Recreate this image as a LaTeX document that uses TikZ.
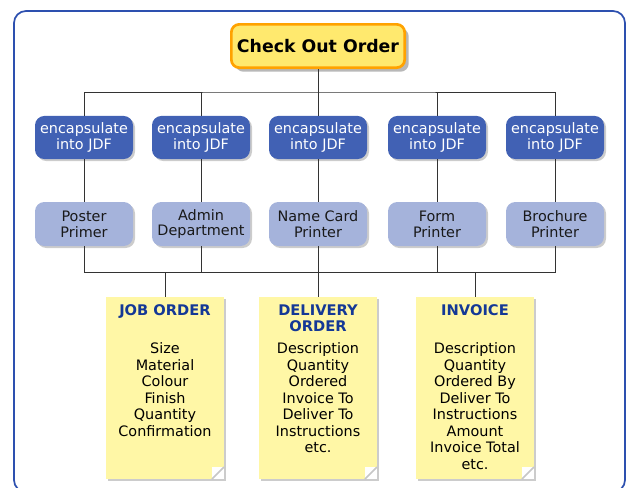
\documentclass[tikz,border=0pt]{standalone}
\usepackage{fontspec}
\setmainfont{DejaVu Sans}
\usetikzlibrary{shadows}
\definecolor{bleucadre}{RGB}{45,80,175}
\definecolor{bleujdf}{RGB}{65,97,180}
\definecolor{bleuclair}{RGB}{165,179,219}
\definecolor{jaunecmd}{RGB}{255,233,110}
\definecolor{orangecmd}{RGB}{255,162,0}
\definecolor{jaunenote}{RGB}{255,247,166}
\definecolor{titrenote}{RGB}{20,56,150}

\begin{document}
\begin{tikzpicture}[x=0.75pt,y=-0.75pt]
\tikzset{
	lien/.style={draw=black!80, line width=0.65pt},
	commande/.style={rounded corners=6pt, fill=jaunecmd, draw=orangecmd, line width=2pt,
		minimum width=130pt, minimum height=32.5pt, inner sep=0pt,
		font=\fontsize{13}{15}\selectfont\bfseries,
		drop shadow={shadow xshift=3pt, shadow yshift=-3pt, fill=black!28, opacity=1}},
	jdf/.style={rounded corners=7pt, fill=bleujdf, text=white, inner sep=0pt,
		minimum width=73.5pt, minimum height=32.3pt, align=center,
		font=\fontsize{10.8}{11.8}\selectfont,
		drop shadow={shadow xshift=1.5pt, shadow yshift=-1.5pt, fill=black!20, opacity=1}},
	poste/.style={jdf, fill=bleuclair, text=black!90, minimum height=33pt},
	note/.style={fill=jaunenote, inner sep=0pt,
		drop shadow={shadow xshift=1.5pt, shadow yshift=-1.5pt, fill=black!20, opacity=1},
		path picture={
			\fill[white] ([xshift=-9pt]path picture bounding box.south east) rectangle ([yshift=9pt]path picture bounding box.south east);
			\draw[black!22, line width=1.2pt] ([yshift=9pt]path picture bounding box.south east) -- ([xshift=-9pt]path picture bounding box.south east);
		}}
}

\useasboundingbox (0,0) rectangle (628,487);

 % le cadre
  \draw[bleucadre, line width=1.3pt, rounded corners=9pt] (14,11) rectangle (625,492);

 % la commande et les etapes
  \node[commande] (coo) at (318,46) {Check Out Order};

  \node[jdf] (enc1) at (84,137.5) {encapsulate\\into JDF};
  \node[jdf] (enc2) at (201,137.5) {encapsulate\\into JDF};
  \node[jdf] (enc3) at (318,137.5) {encapsulate\\into JDF};
  \node[jdf] (enc4) at (437,137.5) {encapsulate\\into JDF};
  \node[jdf] (enc5) at (555,137.5) {encapsulate\\into JDF};

  \node[poste] (prn1) at (84,224) {Poster\\Primer};
  \node[poste] (prn2) at (201,224) {Admin\\Department};
  \node[poste] (prn3) at (318,224) {Name Card\\Printer};
  \node[poste] (prn4) at (437,224) {Form\\Printer};
  \node[poste] (prn5) at (555,224) {Brochure\\Printer};

 % les documents
  \node[note] (job) at (165,388) {\parbox[c][136.5pt][t]{88.5pt}{\centering\fontsize{10.8}{12.4}\selectfont
	\rule{0pt}{14pt}{\color{titrenote}\bfseries\fontsize{11}{12.4}\selectfont JOB ORDER}\\[16pt]
	Size\\Material\\Colour\\Finish\\Quantity\\Confirmation}};
  \node[note] (dlv) at (318,388) {\parbox[c][136.5pt][t]{88.5pt}{\centering\fontsize{10.8}{12.4}\selectfont
	\rule{0pt}{14pt}{\color{titrenote}\bfseries\fontsize{11}{12.4}\selectfont DELIVERY}\\[-0.4pt]
	{\color{titrenote}\bfseries\fontsize{11}{12.4}\selectfont ORDER}\\[4pt]
	Description\\Quantity\\Ordered\\Invoice To\\Deliver To\\Instructions\\etc.}};
  \node[note] (inv) at (475,388) {\parbox[c][136.5pt][t]{88.5pt}{\centering\fontsize{10.8}{12.4}\selectfont
	\rule{0pt}{14pt}{\color{titrenote}\bfseries\fontsize{11}{12.4}\selectfont INVOICE}\\[16pt]
	Description\\Quantity\\Ordered By\\Deliver To\\Instructions\\Amount\\Invoice Total\\etc.}};

 % les liens
  \coordinate (haut) at (318,92);
  \draw[lien] (coo.south) -- (haut);
  \draw[lien] (enc1.north) |- (haut) -| (enc5.north);
  \draw[lien] (enc2.north) -- (enc2.north |- haut);
  \draw[lien] (enc3.north) -- (haut);
  \draw[lien] (enc4.north) -- (enc4.north |- haut);

  \draw[lien] (enc1) -- (prn1);
  \draw[lien] (enc2) -- (prn2);
  \draw[lien] (enc3) -- (prn3);
  \draw[lien] (enc4) -- (prn4);
  \draw[lien] (enc5) -- (prn5);

  \coordinate (bas) at (318,272);
  \draw[lien] (prn1.south) |- (bas) -| (prn5.south);
  \draw[lien] (prn2.south) -- (prn2.south |- bas);
  \draw[lien] (prn3.south) -- (bas);
  \draw[lien] (prn4.south) -- (prn4.south |- bas);

  \draw[lien] (job.north) -- (job.north |- bas);
  \draw[lien] (dlv.north) -- (dlv.north |- bas);
  \draw[lien] (inv.north) -- (inv.north |- bas);
\end{tikzpicture}
\end{document}
